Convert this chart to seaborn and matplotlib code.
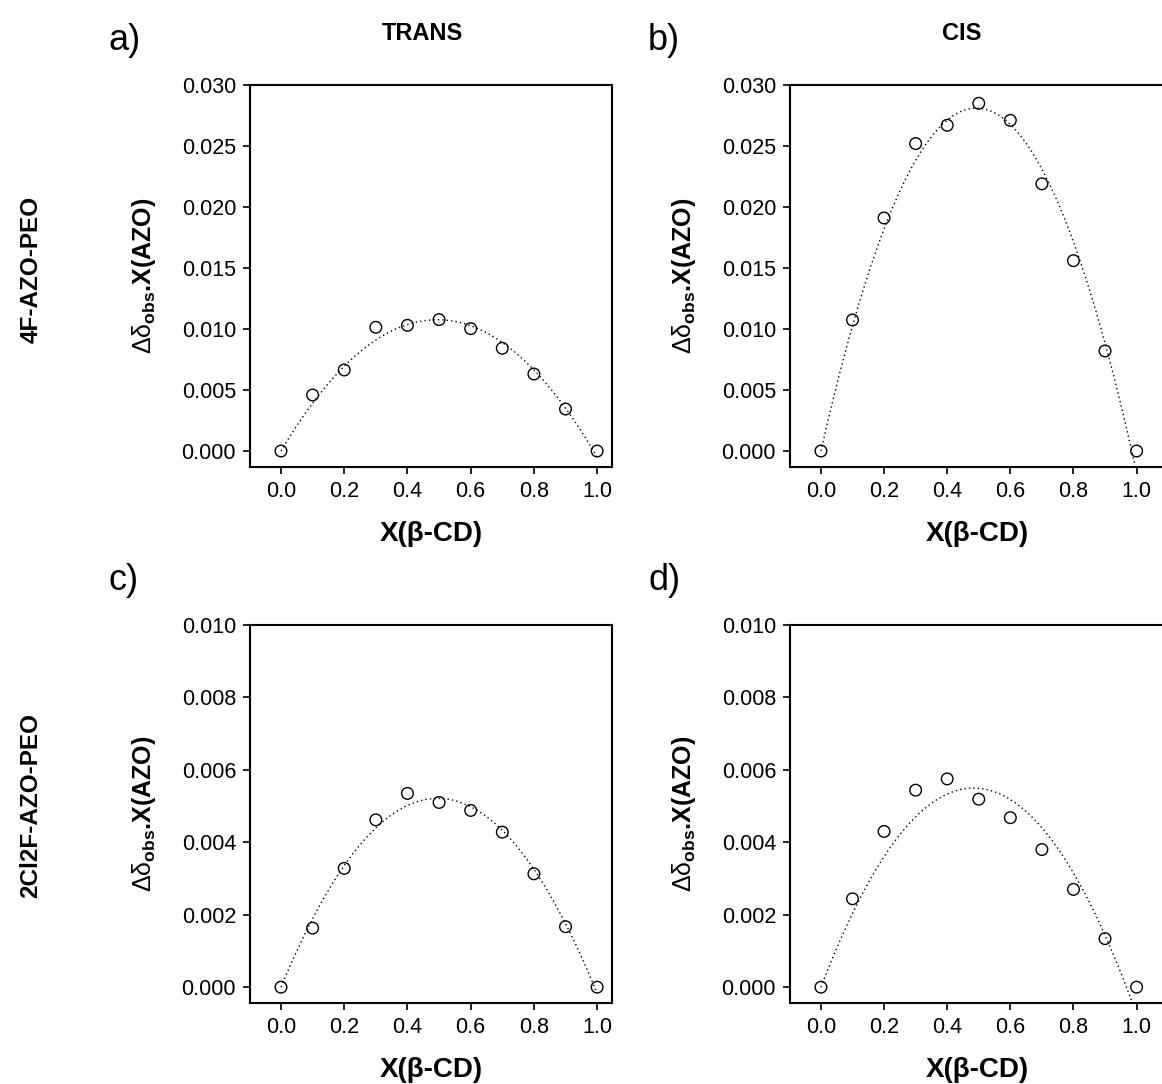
import numpy as np
import pandas as pd
import seaborn as sns
import matplotlib.pyplot as plt
from matplotlib.ticker import FormatStrFormatter, MultipleLocator

sns.set_theme(style="ticks")
plt.rcParams['font.family'] = ['Liberation Sans', 'DejaVu Sans']
plt.rcParams['mathtext.fontset'] = 'custom'
plt.rcParams['mathtext.rm'] = 'Liberation Sans'
plt.rcParams['mathtext.bf'] = 'Liberation Sans:bold'
plt.rcParams['mathtext.default'] = 'regular'
plt.rcParams['text.color'] = 'black'
plt.rcParams['axes.labelcolor'] = 'black'

x_cd = [0.0, 0.1, 0.2, 0.3, 0.4, 0.5, 0.6, 0.7, 0.8, 0.9, 1.0]

trans_4f = [0.0, 0.00459, 0.00664, 0.01014, 0.0103, 0.01077, 0.01003, 0.00842, 0.00631, 0.00344, 0.0]
cis_4f = [0.0, 0.01074, 0.0191, 0.0252, 0.0267, 0.0285, 0.0271, 0.0219, 0.0156, 0.0082, 0.0]
trans_2cl2f = [0.0, 0.00163, 0.00328, 0.00462, 0.00535, 0.0051, 0.00488, 0.00428, 0.00313, 0.00167, 0.0]
cis_2cl2f = [0.0, 0.00244, 0.0043, 0.00544, 0.00575, 0.00519, 0.00468, 0.0038, 0.0027, 0.00134, 0.0]

panels = [
    ("a)", "TRANS", trans_4f, 0.030, 0.005),
    ("b)", "CIS", cis_4f, 0.030, 0.005),
    ("c)", None, trans_2cl2f, 0.010, 0.002),
    ("d)", None, cis_2cl2f, 0.010, 0.002),
]

W, H = 1162, 1084
fig = plt.figure(figsize=(W / 100, H / 100), dpi=100)

# axes boxes in pixels: left, top, right, bottom
boxes = [
    (250, 85, 612, 467),
    (790, 85, 1165, 467),
    (250, 625, 612, 1003),
    (790, 625, 1165, 1003),
]
xmax = [1.047, 1.09, 1.047, 1.09]

ylabel = r"$\mathrm{\Delta\delta}_{\mathbf{obs}}$.X(AZO)"

for i, (letter, title, yvals, ytop, ystep) in enumerate(panels):
    l, t, r, b = boxes[i]
    ax = fig.add_axes([l / W, 1 - b / H, (r - l) / W, (b - t) / H])

    # quadratic fit through the origin (Job plot style)
    xs = np.array(x_cd)
    coef, *_ = np.linalg.lstsq(np.column_stack([xs, xs ** 2]), np.array(yvals), rcond=None)
    xf = np.linspace(0, 1, 200)
    fit = pd.DataFrame({"x": xf, "y": coef[0] * xf + coef[1] * xf ** 2})

    sns.lineplot(data=fit, x="x", y="y", ax=ax, color='black',
                 linestyle=(0, (1, 2.2)), linewidth=1.0)
    sns.scatterplot(x=x_cd, y=yvals, ax=ax, marker='o', s=70,
                    facecolors='none', edgecolor='black', linewidth=1.0,
                    zorder=3)

    ax.set_xlim(-0.098, xmax[i])
    ax.set_ylim(-ytop * 16 / 366, ytop)
    ax.xaxis.set_major_locator(MultipleLocator(0.2))
    ax.yaxis.set_major_locator(MultipleLocator(ystep))
    ax.xaxis.set_major_formatter(FormatStrFormatter('%.1f'))
    ax.yaxis.set_major_formatter(FormatStrFormatter('%.3f'))
    ax.tick_params(axis='both', direction='out', length=5, width=1.2,
                   labelsize=15.5, colors='black', pad=5)
    for sp in ax.spines.values():
        sp.set_linewidth(1.5)
        sp.set_color('black')

    ax.set_xlabel("X(\u03b2-CD)", fontsize=20, fontweight='bold', labelpad=14)
    ax.set_ylabel(ylabel, fontsize=18, fontweight='bold', labelpad=17)

    fig.text((l - 142) / W, 1 - (t - 44) / H, letter, fontsize=26,
             ha='left', va='center')
    if title:
        fig.text((l + 172) / W, 1 - 33 / H, title, fontsize=17,
                 fontweight='bold', ha='center', va='center')

fig.text(31 / W, 1 - 269 / H, "4F-AZO-PEO", rotation=90, fontsize=17.5,
         fontweight='bold', ha='center', va='center')
fig.text(31 / W, 1 - 805 / H, "2Cl2F-AZO-PEO", rotation=90, fontsize=17.5,
         fontweight='bold', ha='center', va='center')

fig.savefig("out.png", dpi=100, facecolor='white')
